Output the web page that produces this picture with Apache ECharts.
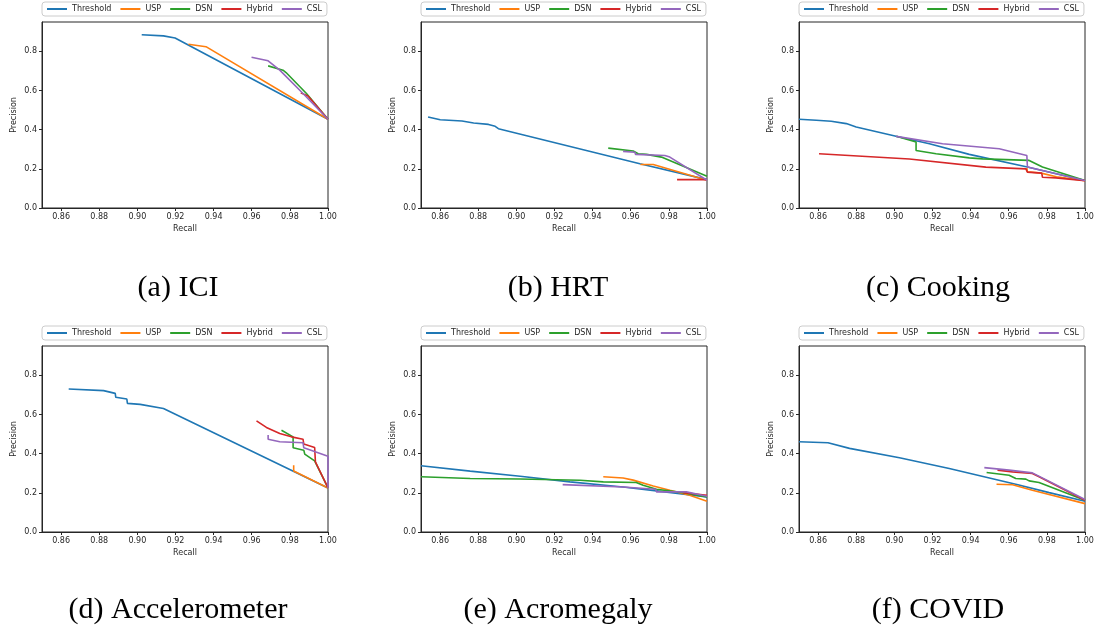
<!DOCTYPE html>
<html><head><meta charset="utf-8">
<script src="https://cdn.jsdelivr.net/npm/echarts@6/dist/echarts.min.js"></script>
<style>html,body{margin:0;padding:0;background:#fff}#c{width:1097px;height:630px}</style>
</head><body><div id="c"></div>
<script>
const seriesNames = ['Threshold', 'USP', 'DSN', 'Hybrid', 'CSL'];
const panelTitles = ['(a) ICI', '(b) HRT', '(c) Cooking', '(d) Accelerometer', '(e) Acromegaly', '(f) COVID'];
const xTicks = [0.86, 0.88, 0.90, 0.92, 0.94, 0.96, 0.98, 1.00];
const yTicks = [0.0, 0.2, 0.4, 0.6, 0.8];
const xLabel = 'Recall';
const yLabel = 'Precision';

// [recall, precision] points
// (a) ICI
const iciThreshold = [[0.9023,0.885],[0.9137,0.879],[0.9198,0.868],[1.0,0.453]];
const iciUSP = [[0.9268,0.836],[0.936,0.824],[1.0,0.453]];
const iciDSN = [[0.9686,0.726],[0.9764,0.704],[0.978,0.692],[0.9887,0.585],[1.0,0.453]];
const iciHybrid = [[0.9857,0.588],[0.9895,0.572],[1.0,0.453]];
const iciCSL = [[0.9599,0.770],[0.9686,0.752],[0.9747,0.704],[0.9878,0.576],[1.0,0.453]];
// (b) HRT
const hrtThreshold = [[0.8537,0.465],[0.8601,0.451],[0.8715,0.444],[0.8776,0.434],[0.8854,0.427],[0.8889,0.417],[0.8906,0.405],[0.8915,0.403],[0.9648,0.226],[1.0,0.145]];
const hrtUSP = [[0.9651,0.222],[0.9718,0.222],[1.0,0.142]];
const hrtDSN = [[0.9482,0.306],[0.9613,0.291],[0.9639,0.277],[0.9683,0.274],[0.9761,0.260],[1.0,0.162]];
const hrtHybrid = [[0.9843,0.145],[1.0,0.145]];
const hrtCSL = [[0.956,0.289],[0.9622,0.285],[0.9625,0.274],[0.9779,0.268],[0.9805,0.260],[1.0,0.142]];
// (c) Cooking
const cookThreshold = [[0.85,0.453],[0.8591,0.448],[0.8669,0.443],[0.8748,0.431],[0.88,0.414],[0.9009,0.366],[0.9184,0.328],[0.9393,0.274],[0.9698,0.209],[1.0,0.140]];
const cookUSP = [[0.9695,0.205],[0.9698,0.185],[0.977,0.178],[0.9775,0.168],[0.985,0.160],[1.0,0.140]];
const cookDSN = [[0.901,0.366],[0.9114,0.337],[0.9114,0.294],[0.9219,0.277],[0.9393,0.256],[0.9463,0.251],[0.9707,0.243],[0.9777,0.209],[1.0,0.140]];
const cookHybrid = [[0.8605,0.277],[0.9079,0.250],[0.948,0.209],[0.969,0.200],[0.9698,0.183],[0.9773,0.178],[0.9777,0.157],[0.9847,0.154],[1.0,0.140]];
const cookCSL = [[0.9009,0.366],[0.9253,0.328],[0.955,0.303],[0.9695,0.268],[0.9698,0.209],[1.0,0.140]];
// (d) Accelerometer
const accThreshold = [[0.864,0.730],[0.8823,0.722],[0.8884,0.708],[0.8887,0.688],[0.8945,0.679],[0.8948,0.657],[0.9015,0.652],[0.9137,0.631],[1.0,0.225]];
const accUSP = [[0.982,0.341],[0.982,0.312],[1.0,0.225]];
const accDSN = [[0.9756,0.520],[0.9817,0.486],[0.9817,0.430],[0.9873,0.418],[0.9878,0.398],[0.993,0.363],[1.0,0.225]];
const accHybrid = [[0.9625,0.568],[0.9677,0.534],[0.9747,0.503],[0.9808,0.486],[0.9869,0.474],[0.9873,0.449],[0.993,0.432],[0.9934,0.358],[1.0,0.225]];
const accCSL = [[0.9686,0.495],[0.9686,0.474],[0.9747,0.461],[0.9869,0.456],[0.9873,0.430],[1.0,0.387],[1.0,0.225]];
// (e) Acromegaly
const acroThreshold = [[0.85,0.338],[0.8758,0.311],[0.902,0.285],[0.9281,0.256],[0.956,0.230],[0.9735,0.210],[1.0,0.179]];
const acroUSP = [[0.9456,0.282],[0.956,0.276],[0.9613,0.265],[0.9718,0.235],[0.9805,0.213],[0.9909,0.188],[1.0,0.157]];
const acroDSN = [[0.85,0.282],[0.8758,0.273],[0.902,0.271],[0.9334,0.264],[0.9456,0.256],[0.9629,0.253],[0.9665,0.239],[0.9735,0.218],[0.9874,0.201],[1.0,0.179]];
const acroHybrid = [[0.9874,0.201],[0.993,0.195],[1.0,0.188]];
const acroCSL = [[0.9243,0.242],[0.956,0.230],[0.9731,0.218],[0.9735,0.205],[0.9892,0.205],[1.0,0.183]];
// (f) COVID
const covThreshold = [[0.85,0.461],[0.8652,0.456],[0.8765,0.427],[0.9027,0.379],[0.9288,0.324],[0.9637,0.244],[0.9812,0.201],[1.0,0.157]];
const covUSP = [[0.9536,0.244],[0.962,0.241],[0.9724,0.213],[1.0,0.145]];
const covDSN = [[0.9484,0.304],[0.9602,0.290],[0.9637,0.273],[0.969,0.270],[0.9707,0.261],[0.9759,0.253],[1.0,0.162]];
const covHybrid = [[0.9541,0.316],[0.962,0.307],[0.9724,0.299],[0.9759,0.282],[1.0,0.162]];
const covCSL = [[0.9472,0.329],[0.9602,0.316],[0.9724,0.302],[1.0,0.166]];

const panels = [
  [iciThreshold, iciUSP, iciDSN, iciHybrid, iciCSL],
  [hrtThreshold, hrtUSP, hrtDSN, hrtHybrid, hrtCSL],
  [cookThreshold, cookUSP, cookDSN, cookHybrid, cookCSL],
  [accThreshold, accUSP, accDSN, accHybrid, accCSL],
  [acroThreshold, acroUSP, acroDSN, acroHybrid, acroCSL],
  [covThreshold, covUSP, covDSN, covHybrid, covCSL]
];

const colors = ['#1f77b4', '#ff7f0e', '#2ca02c', '#d62728', '#9467bd'];
const colLeft = [42, 421, 799];
const rowTop = [22, 346];
const gridW = 286, gridH = 186;
const captionX = [178, 558, 938];
const captionY = [288, 610];
const textColor = '#262626';
const font = 'DejaVu Sans';

const grids = [], xAxes = [], yAxes = [], legends = [], series = [], graphics = [];
panels.forEach((lines, p) => {
  const c = p % 3, r = Math.floor(p / 3);
  grids.push({left: colLeft[c], top: rowTop[r], width: gridW, height: gridH,
    show: true, borderColor: textColor, borderWidth: 1, backgroundColor: 'transparent'});
  xAxes.push({type: 'value', gridIndex: p, min: 0.85, max: 1.0,
    name: xLabel, nameLocation: 'middle', nameGap: 17,
    nameTextStyle: {fontFamily: font, fontSize: 8, color: textColor},
    axisLine: {show: true, lineStyle: {color: textColor, width: 1}},
    axisTick: {show: true, length: 3, customValues: xTicks, lineStyle: {color: textColor}},
    axisLabel: {customValues: xTicks, fontFamily: font, fontSize: 8, color: textColor, margin: 5,
      formatter: v => v.toFixed(2)},
    splitLine: {show: false}});
  yAxes.push({type: 'value', gridIndex: p, min: 0, max: 0.95,
    name: yLabel, nameLocation: 'middle', nameGap: 24, nameRotate: 90,
    nameTextStyle: {fontFamily: font, fontSize: 8, color: textColor},
    axisLine: {show: true, lineStyle: {color: textColor, width: 1}},
    axisTick: {show: true, length: 3, customValues: yTicks, lineStyle: {color: textColor}},
    axisLabel: {customValues: yTicks, fontFamily: font, fontSize: 8, color: textColor, margin: 5,
      formatter: v => v.toFixed(1)},
    splitLine: {show: false}});
  legends.push({left: colLeft[c], top: rowTop[r] - 20, orient: 'horizontal',
    data: seriesNames, icon: 'rect', itemWidth: 20, itemHeight: 2, itemGap: 9,
    selectedMode: false,
    textStyle: {fontFamily: font, fontSize: 8, color: textColor, padding: [0, 0, 0, 0]},
    borderColor: '#cccccc', borderWidth: 1, borderRadius: 3, padding: [3, 5]});
  lines.forEach((d, s) => {
    series.push({type: 'line', name: seriesNames[s], xAxisIndex: p, yAxisIndex: p,
      data: d, showSymbol: false, symbol: 'none', clip: true,
      lineStyle: {color: colors[s], width: 1.6}, itemStyle: {color: colors[s]},
      emphasis: {disabled: true}, animation: false});
  });
  graphics.push({type: 'text', x: captionX[c], y: captionY[r],
    style: {text: panelTitles[p], font: '30px "Liberation Serif"', fill: '#000',
      textAlign: 'center', textVerticalAlign: 'middle'}});
});

const chart = echarts.init(document.getElementById('c'), null, {renderer: 'canvas'});
chart.setOption({
  animation: false, color: colors,
  grid: grids, xAxis: xAxes, yAxis: yAxes, legend: legends, series: series, graphic: graphics
});
</script></body></html>
